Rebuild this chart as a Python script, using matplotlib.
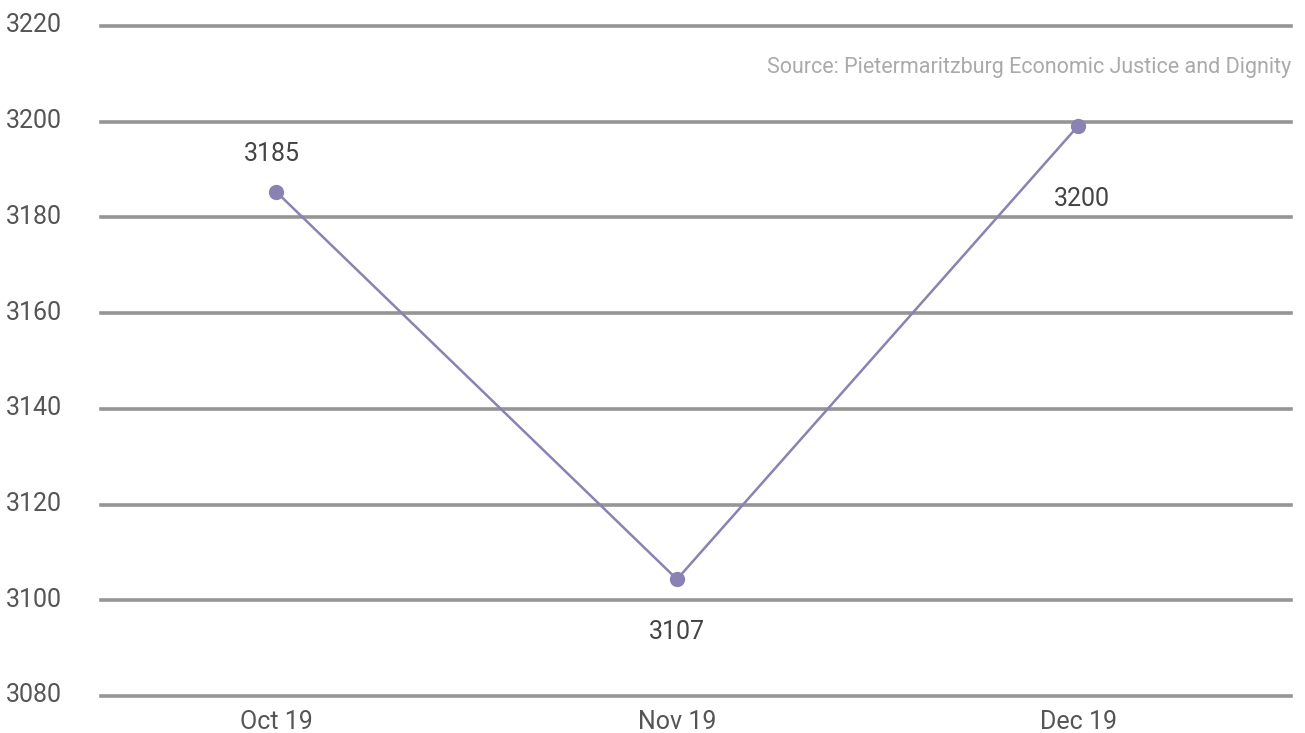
import matplotlib
matplotlib.use("Agg")
import matplotlib.pyplot as plt
import matplotlib.transforms as mtransforms

categories = ["Oct 19", "Nov 19", "Dec 19"]
values = [3185.4, 3104.4, 3199.1]
value_labels = ["3185", "3107", "3200"]
label_offsets_px = [(-4, 38), (0, -53), (4, -73)]
yticks = [3080, 3100, 3120, 3140, 3160, 3180, 3200, 3220]
source = "Source: Pietermaritzburg Economic Justice and Dignity"

plt.rcParams['font.family'] = ['Roboto', 'DejaVu Sans']

W, H = 1305, 733
fig = plt.figure(figsize=(W/100, H/100), dpi=100)
ax = fig.add_axes([101/W, 1-696/H, (1291-101)/W, (696-26)/H])

x = list(range(len(categories)))
ax.set_ylim(3080, 3220)
ax.set_xlim(-175/401, 2+213/401)
ax.set_yticks(yticks)
ax.set_yticklabels([str(t) for t in yticks])
for t in yticks:
    ax.axhline(t, color="#959595", lw=2.6, zorder=1, clip_on=False)
ax.plot(x, values, color="#8a82b2", lw=1.8, marker="o", markersize=10, zorder=3, clip_on=False)

for xi, v, lab, (dx, dy) in zip(x, values, value_labels, label_offsets_px):
    ax.annotate(lab, (xi, v), xytext=(dx*0.72, dy*0.72), textcoords="offset points",
                ha="center", va="center", fontsize=18, color="#444444")

ax.set_xticks(x)
ax.set_xticklabels(categories)
ax.tick_params(axis="both", length=0, labelsize=18, labelcolor="#555555")
ax.tick_params(axis="y", pad=28)
ax.tick_params(axis="x", pad=10)
offset = mtransforms.ScaledTranslation(0, 3/100, fig.dpi_scale_trans)
for lbl in ax.get_yticklabels():
    lbl.set_horizontalalignment("right")
    lbl.set_transform(lbl.get_transform() + offset)
for s in ax.spines.values():
    s.set_visible(False)

fig.text(1291/W, 1-68/H, source, ha="right", va="center", fontsize=15.5, color="#aaaaaa")

fig.savefig("out.png", dpi=100)
